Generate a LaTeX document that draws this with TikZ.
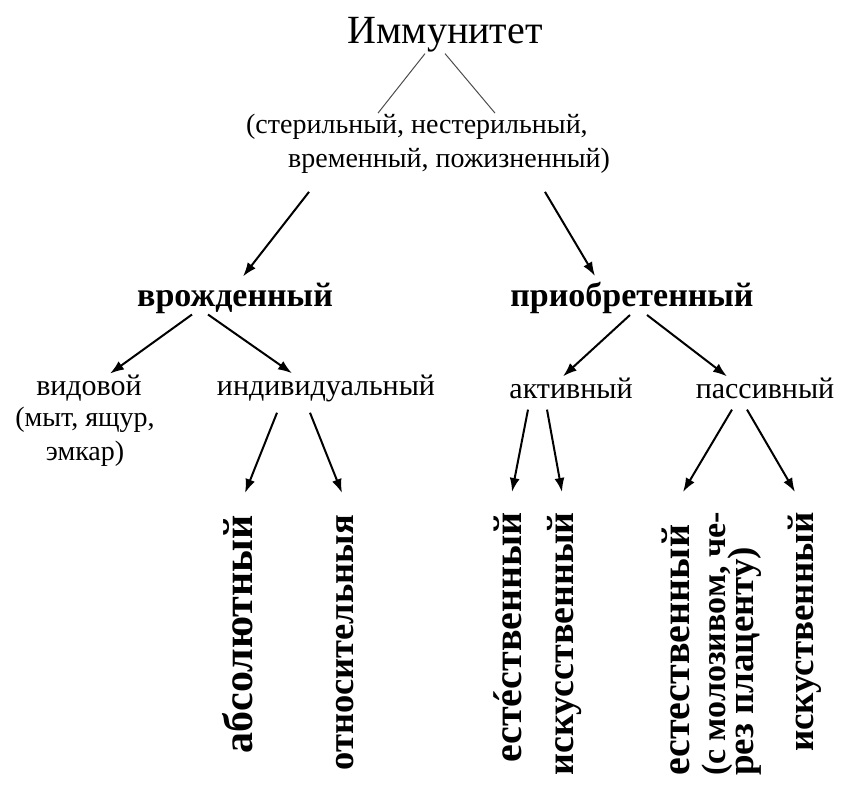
\documentclass[tikz,border=0pt]{standalone}
\usepackage{fontspec}
\setmainfont{Liberation Serif}
\usetikzlibrary{arrows.meta}

\tikzset{
  title/.style={font=\fontsize{40}{44}\selectfont, inner sep=1pt},
  level/.style={font=\fontsize{34}{38}\bfseries\selectfont, inner sep=1pt},
  kind/.style={font=\fontsize{30}{34}\selectfont, inner sep=1pt},
  note/.style={font=\fontsize{28}{34}\selectfont, inner sep=1pt},
  vert/.style={font=\fontsize{40}{38}\bfseries\selectfont, rotate=90, anchor=east, inner sep=0pt},
  link/.style={line width=1pt, black!70},
  arr/.style={-{Latex[length=14pt,width=10pt]}, line width=2pt}
}

\begin{document}
\begin{tikzpicture}[x=1pt, y=-1pt]
\useasboundingbox (0,0) rectangle (843,794);
% top
\path (445,35) node[title] (imm) {Иммунитет};
\path (428,144) node[note, align=left] (kinds) {(стерильный, нестерильный,\\\hspace*{1.5em}временный, пожизненный)};
\draw[link] ([xshift=-20pt]imm.south) -- ([xshift=-50pt]kinds.north);
\draw[link] ([xshift=0pt]imm.south) -- ([xshift=67pt]kinds.north);
% two main branches
\path (235,298) node[level] (innate) {врожденный};
\path (632,298) node[level] (acq) {приобретенный};
\draw[arr] ([xshift=-119pt, yshift=-17pt]kinds.south) -- ([xshift=8pt, yshift=5pt]innate.north);
\draw[arr] ([xshift=117pt, yshift=-17pt]kinds.south) -- ([xshift=-37pt, yshift=5pt]acq.north);
% innate
\path (89,388) node[kind] (spec) {видовой};
\path (85,437) node[note, align=center] (specnote) {(мыт, ящур,\\эмкар)};
\path (326,388) node[kind] (indiv) {индивидуальный};
\draw[arr] ([xshift=-43pt]innate.south) -- ([xshift=21pt]spec.north);
\draw[arr] ([xshift=-27pt]innate.south) -- ([xshift=-34pt]indiv.north);
% acquired
\path (571,388) node[kind] (act) {активный};
\path (765,388) node[kind] (pas) {пассивный};
\draw[arr] ([xshift=-2pt]acq.south) -- ([xshift=-8pt]act.north);
\draw[arr] ([xshift=15pt]acq.south) -- ([xshift=-38pt]pas.north);
% leaves, read from bottom to top
\path (238,515) node[vert, font=\fontsize{42}{38}\bfseries\selectfont] (abs) {абсолютный};
\path (345,515) node[vert, font=\fontsize{36.5}{38}\bfseries\selectfont] (rel) {относительныя};
\path (508,512) node[vert] (nat) {естéственный};
\path (565,512) node[vert, font=\fontsize{38}{38}\bfseries\selectfont] (art) {искусственный};
\path (712,512) node[vert, align=left] (natp) {естественный\\[-2pt]{\fontsize{34}{30}\selectfont(с молозивом, че-}\\[-10pt]{\fontsize{37}{30}\selectfont рез плаценту)}};
\path (805,512) node[vert, font=\fontsize{37}{38}\bfseries\selectfont] (artp) {искуственный};
\draw[arr] ([xshift=-49pt, yshift=-10pt]indiv.south) -- ([xshift=7pt, yshift=22pt]abs.east);
\draw[arr] ([xshift=-16pt, yshift=-10pt]indiv.south) -- ([xshift=-3pt, yshift=22pt]rel.east);
\draw[arr] ([xshift=-43pt, yshift=-10pt]act.south) -- ([xshift=4pt, yshift=20pt]nat.east);
\draw[arr] ([xshift=-24pt, yshift=-10pt]act.south) -- ([xshift=-3pt, yshift=20pt]art.east);
\draw[arr] ([xshift=-33pt, yshift=-10pt]pas.south) -- ([xshift=-29pt, yshift=20pt]natp.east);
\draw[arr] ([xshift=-18pt, yshift=-10pt]pas.south) -- ([xshift=-10pt, yshift=20pt]artp.east);
\end{tikzpicture}
\end{document}
